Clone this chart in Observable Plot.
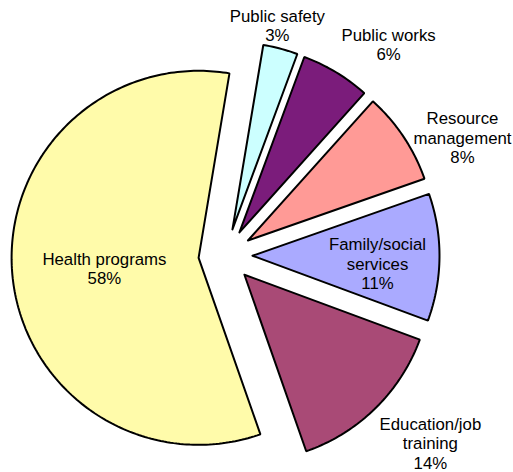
<!DOCTYPE html>
<html>
<head>
<meta charset="utf-8">
<script src="https://cdn.jsdelivr.net/npm/d3@7"></script>
<script src="https://cdn.jsdelivr.net/npm/@observablehq/plot@0.6"></script>
<style>
  html, body { margin: 0; padding: 0; background: #fff; }
  #chart svg { display: block; }
</style>
</head>
<body>
<div id="chart"></div>
<script>
// ---- Data ----
const categories = ["Public safety", "Public works", "Resource management", "Family/social services", "Education/job training", "Health programs"];
const labelLines = ["Public safety", "Public works", "Resource\nmanagement", "Family/social\nservices", "Education/job\ntraining", "Health programs"];
const shares = [3, 6, 8, 11, 14, 58];
const colors = ["#CCFFFF", "#7B1C7B", "#FF9A96", "#AAAAFF", "#A94A76", "#FFFBAA"];

// ---- Layout (not data) ----
const W = 513, H = 472;
const CX = 225, CY = 255, R = 187;       // pie centre and radius in pixels
const startAngle = 9.5;                  // degrees clockwise from 12 o'clock
const explode = 27 / R;                  // explosion distance in radius units
// label placement: radius (in R units) and angle offset from slice mid-angle
const labelPlace = [
  {r: 1.262, da: -2.2},
  {r: 1.426, da: 6.6},
  {r: 1.416, da: 7.2},
  {r: 0.814, da: 2.5},
  {r: 1.486, da: -3.0},
  {r: 0.651, da: -1.0}
];

const total = d3.sum(shares);
const rad = a => a * Math.PI / 180;
let acc = startAngle;
const slices = categories.map((name, i) => {
  const a0 = acc, a1 = acc + shares[i] / total * 360;
  acc = a1;
  return {name, i, a0, a1, mid: (a0 + a1) / 2, share: shares[i]};
});

// polygon points for each slice (unit-radius data space, y up)
const pts = [];
for (const s of slices) {
  const ox = explode * Math.sin(rad(s.mid)), oy = explode * Math.cos(rad(s.mid));
  const ring = [[ox, oy]];
  const n = Math.max(8, Math.ceil((s.a1 - s.a0) / 1));
  for (let k = 0; k <= n; k++) {
    const a = s.a0 + (s.a1 - s.a0) * k / n;
    ring.push([ox + Math.sin(rad(a)), oy + Math.cos(rad(a))]);
  }
  ring.push([ox, oy]);
  ring.forEach(([x, y], j) => pts.push({name: s.name, i: s.i, x, y, j}));
}

const labels = slices.map(s => {
  const p = labelPlace[s.i];
  const a = rad(s.mid + p.da);
  return {x: p.r * Math.sin(a), y: p.r * Math.cos(a), text: labelLines[s.i] + "\n" + s.share + "%"};
});

const chart = Plot.plot({
  width: W,
  height: H,
  margin: 0,
  x: {domain: [-CX / R, (W - CX) / R], axis: null},
  y: {domain: [(CY - H) / R, CY / R], axis: null},
  color: {domain: categories, range: colors},
  style: {background: "#fff"},
  marks: [
    Plot.line(pts, {
      x: "x", y: "y", z: "name", fill: "name",
      stroke: "#000", strokeWidth: 2, strokeLinejoin: "miter", curve: "linear"
    }),
    Plot.text(labels, {
      x: "x", y: "y", text: "text",
      fontSize: 16.8, lineHeight: 1.16, fill: "#000",
      fontFamily: "Liberation Sans, Arial, sans-serif",
      textAnchor: "middle"
    })
  ]
});
document.getElementById("chart").appendChild(chart);
</script>
</body>
</html>
